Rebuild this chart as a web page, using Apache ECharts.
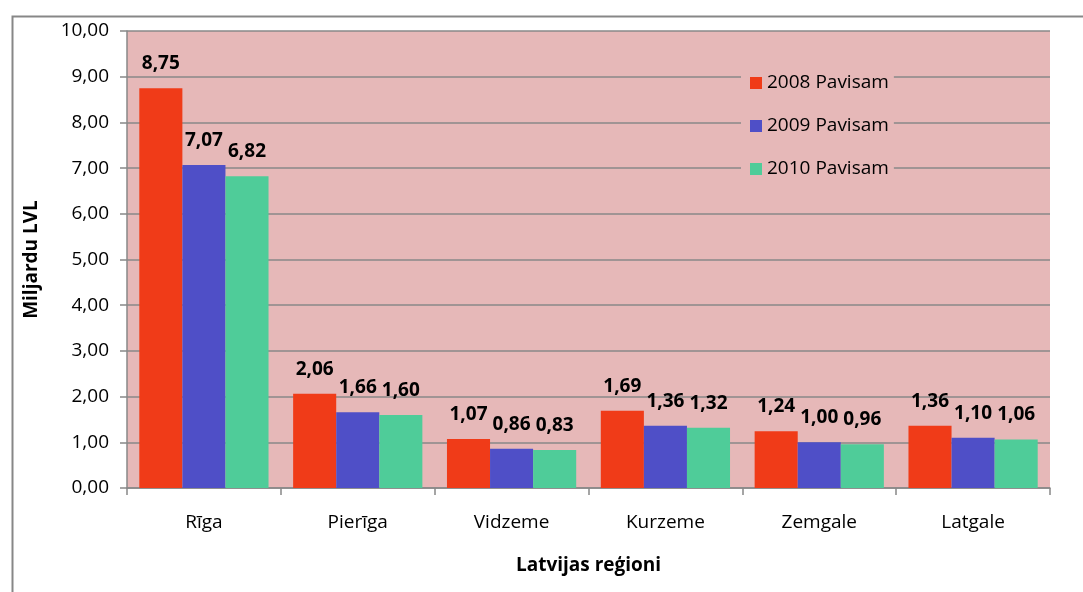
<!DOCTYPE html>
<html><head><meta charset="utf-8">
<script src="https://cdn.jsdelivr.net/npm/echarts@6/dist/echarts.min.js"></script>
<style>html,body{margin:0;padding:0;background:#fff}#c{width:1083px;height:592px}</style>
</head><body><div id="c"></div>
<script>
const categories = ['Rīga', 'Pierīga', 'Vidzeme', 'Kurzeme', 'Zemgale', 'Latgale'];
const seriesNames = ['2008 Pavisam', '2009 Pavisam', '2010 Pavisam'];
const values2008 = [8.75, 2.06, 1.07, 1.69, 1.24, 1.36];
const values2009 = [7.07, 1.66, 0.86, 1.36, 1.00, 1.10];
const values2010 = [6.82, 1.60, 0.83, 1.32, 0.96, 1.06];
const colors = ['#F03B18', '#4F4FC7', '#4FCC99'];
const font = "'Open Sans', 'Noto Sans', sans-serif";
const fmt = v => v.toFixed(2).replace('.', ',');

const chart = echarts.init(document.getElementById('c'));
const dataSets = [values2008, values2009, values2010];
chart.setOption({
  animation: false,
  graphic: [{
    type: 'rect', left: 10, top: 14, z: -10,
    shape: { width: 1100, height: 620 },
    style: { fill: 'none', stroke: '#878787', lineWidth: 2 }
  }],
  grid: { left: 127, top: 31, width: 923, height: 457, backgroundColor: '#E6B8B8', show: true, borderWidth: 0 },
  legend: {
    orient: 'vertical', left: 741, top: 62,
    backgroundColor: '#E6B8B8', padding: [10, 5, 10, 9],
    itemWidth: 12, itemHeight: 12, itemGap: 21,
    icon: 'rect',
    textStyle: { fontFamily: font, fontSize: 19, color: '#000', lineHeight: 22 },
    data: seriesNames
  },
  xAxis: {
    type: 'category', data: categories,
    name: 'Latvijas reģioni', nameLocation: 'middle', nameGap: 68,
    nameTextStyle: { fontFamily: font, fontSize: 19, fontWeight: 'bold', color: '#000' },
    axisLine: { lineStyle: { color: '#888', width: 1.5 } },
    axisTick: { show: true, length: 7, lineStyle: { color: '#888', width: 1.5 } },
    axisLabel: { fontFamily: font, fontSize: 19, color: '#000', margin: 25 }
  },
  yAxis: {
    type: 'value', min: 0, max: 10, interval: 1,
    name: 'Miljardu LVL', nameLocation: 'middle', nameGap: 86,
    nameTextStyle: { fontFamily: font, fontSize: 19, fontWeight: 'bold', color: '#000' },
    axisLine: { show: true, lineStyle: { color: '#888', width: 1.5 } },
    axisTick: { show: true, length: 7, lineStyle: { color: '#888', width: 1.5 } },
    splitLine: { lineStyle: { color: '#888', width: 1.5 } },
    axisLabel: { fontFamily: font, fontSize: 19, color: '#000', margin: 18, formatter: v => fmt(v) }
  },
  series: seriesNames.map((n, i) => ({
    name: n, type: 'bar', data: dataSets[i],
    barGap: '0%', barCategoryGap: '16%',
    itemStyle: { color: colors[i] },
    label: {
      show: true, position: 'top', distance: 15,
      fontFamily: font, fontSize: 19, fontWeight: 'bold', color: '#000',
      formatter: p => fmt(p.value)
    }
  }))
});
</script></body></html>
